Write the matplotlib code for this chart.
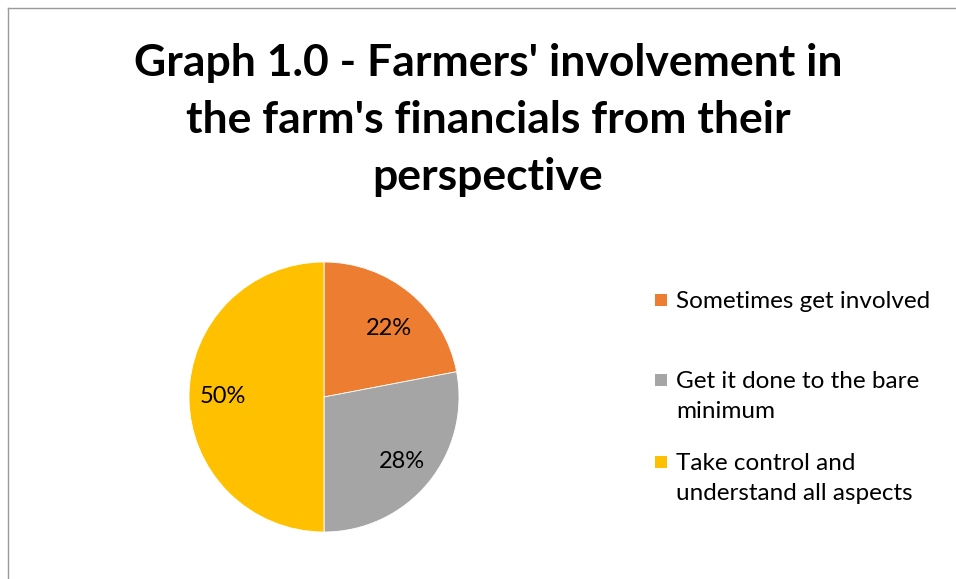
import matplotlib.pyplot as plt
from matplotlib.lines import Line2D
from matplotlib.patches import Rectangle

title = "Graph 1.0 - Farmers' involvement in\nthe farm's financials from their\nperspective"
categories = ["Sometimes get involved",
              "Get it done to the bare\nminimum",
              "Take control and\nunderstand all aspects"]
shares = [22, 28, 50]
colors = ["#ED7D31", "#A5A5A5", "#FFC000"]

plt.rcParams['font.family'] = ['Lato', 'DejaVu Sans']

W, H = 956, 579
fig = plt.figure(figsize=(W / 100, H / 100), dpi=100)

# frame (only left and top edges visible in the crop)
fig.add_artist(Line2D([8 / W, 8 / W], [0, 1 - 8 / H], color="#9a9a9a", lw=1))
fig.add_artist(Line2D([8 / W, 1], [1 - 8 / H, 1 - 8 / H], color="#9a9a9a", lw=1))

fig.text(488 / W, 1 - 120 / H, title, ha="center", va="center",
         fontsize=32, fontweight="bold", linespacing=1.53)

# pie, centred at (324, 397) px with radius 135 px
r = 135
ax = fig.add_axes([(324 - r) / W, (H - 397 - r) / H, 2 * r / W, 2 * r / H])
wedges, texts, autotexts = ax.pie(
    shares, colors=colors, startangle=90, counterclock=False,
    autopct="%d%%", pctdistance=0.75,
    wedgeprops=dict(edgecolor="white", linewidth=0.6),
    textprops=dict(fontsize=17, color="black"))
# excel puts the small slice label a bit lower
x0, y0 = autotexts[0].get_position()
autotexts[0].set_position((x0, y0 - 0.074))
ax.set_xlim(-1, 1)
ax.set_ylim(-1, 1)
ax.set_aspect("equal")
ax.axis("off")

# legend, drawn by hand so the markers sit on the first line of each entry
leg_y = [300, 380, 462]
for lab, col, y in zip(categories, colors, leg_y):
    fig.add_artist(Rectangle((655 / W, 1 - (y + 6) / H), 12 / W, 12 / H,
                             facecolor=col, edgecolor="none"))
    fig.text(676 / W, 1 - (y - 9) / H, lab, ha="left", va="top",
             fontsize=17.5, linespacing=1.5)

fig.savefig("out.png", dpi=100)
